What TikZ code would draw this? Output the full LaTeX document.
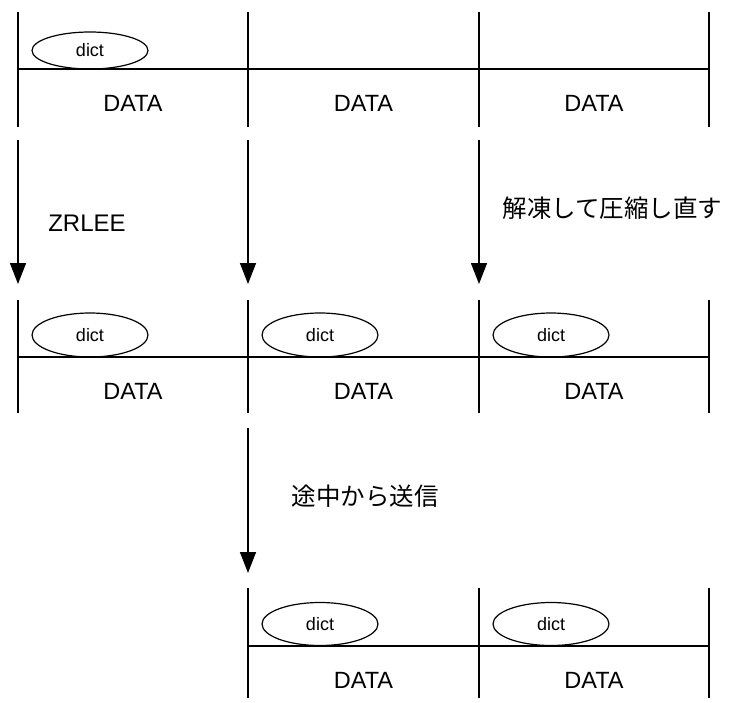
\documentclass[tikz,border=0pt]{standalone}
\usepackage{fontspec}
\setmainfont{Liberation Sans}
\newfontfamily\jpfont{Noto Sans CJK JP}
\usetikzlibrary{arrows.meta,shapes.geometric}
\begin{document}
\begin{tikzpicture}[x=1pt,y=-1pt,line width=1.5pt,
  dictnode/.style={draw,ellipse,line width=1.2pt,minimum width=116pt,inner sep=0pt,font=\fontsize{18}{21}\selectfont},
  datanode/.style={inner sep=0pt,font=\fontsize{23.5}{27}\selectfont},
  flow/.style={-{Triangle[length=21pt,width=16pt]}},
  lbl/.style={inner sep=0pt,font=\fontsize{24}{28}\selectfont},
  jplbl/.style={inner sep=0pt,font=\jpfont\fontsize{24.5}{28}\selectfont}]
\useasboundingbox (0,0) rectangle (731,702);

% ---------- row 1 ----------
\foreach \x/\n in {18/a,248/b,479/c,709/d}{
  \coordinate (r1\n t) at (\x,12);
  \coordinate (r1\n b) at (\x,127);
  \draw (r1\n t) -- (r1\n b);
}
\coordinate (r1l) at (18,69);
\coordinate (r1r) at (709,69);
\draw (r1l) -- (r1r);
\node[dictnode,minimum height=37pt] (d1a) at (90,50.5) {dict};
\node[datanode] (D1a) at (133,103) {DATA};
\node[datanode] (D1b) at (363.5,103) {DATA};
\node[datanode] (D1c) at (594,103) {DATA};

% ---------- arrows 1 -> 2 ----------
\foreach \x/\n in {18/a,248/b,479/c}{
  \coordinate (f1\n s) at (\x,140);
  \coordinate (f1\n e) at (\x,284);
  \draw[flow] (f1\n s) -- (f1\n e);
}
\node[lbl] (zrlee) at (87,223) {ZRLEE};
\node[jplbl] (recomp) at (612.5,208) {解凍して圧縮し直す};

% ---------- row 2 ----------
\foreach \x/\n in {18/a,248/b,479/c,709/d}{
  \coordinate (r2\n t) at (\x,300);
  \coordinate (r2\n b) at (\x,413);
  \draw (r2\n t) -- (r2\n b);
}
\coordinate (r2l) at (18,357);
\coordinate (r2r) at (709,357);
\draw (r2l) -- (r2r);
\node[dictnode,minimum height=44pt] (d2a) at (90,335) {dict};
\node[dictnode,minimum height=44pt] (d2b) at (320,335) {dict};
\node[dictnode,minimum height=44pt] (d2c) at (551,335) {dict};
\node[datanode] (D2a) at (133,391) {DATA};
\node[datanode] (D2b) at (363.5,391) {DATA};
\node[datanode] (D2c) at (594,391) {DATA};

% ---------- arrow 2 -> 3 ----------
\coordinate (f2s) at (248,428);
\coordinate (f2e) at (248,573);
\draw[flow] (f2s) -- (f2e);
\node[jplbl] (send) at (365,496) {途中から送信};

% ---------- row 3 ----------
\foreach \x/\n in {248/b,479/c,709/d}{
  \coordinate (r3\n t) at (\x,588);
  \coordinate (r3\n b) at (\x,698);
  \draw (r3\n t) -- (r3\n b);
}
\coordinate (r3l) at (248,646);
\coordinate (r3r) at (709,646);
\draw (r3l) -- (r3r);
\node[dictnode,minimum height=43pt] (d3b) at (320,624) {dict};
\node[dictnode,minimum height=43pt] (d3c) at (551,624) {dict};
\node[datanode] (D3b) at (363.5,680) {DATA};
\node[datanode] (D3c) at (594,680) {DATA};
\end{tikzpicture}
\end{document}
